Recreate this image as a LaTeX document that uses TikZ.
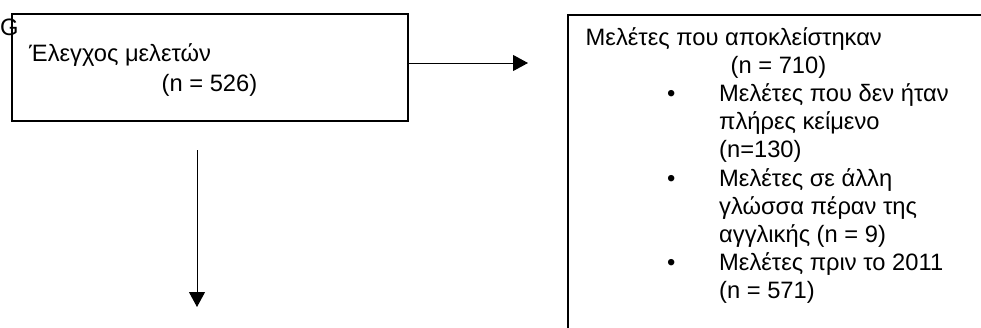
\documentclass[tikz,border=0pt]{standalone}
\usepackage{fontspec}
\setmainfont{Liberation Sans}
\usetikzlibrary{arrows.meta}
\begin{document}
\begin{tikzpicture}[x=1pt,y=-1pt,
  boxline/.style={draw=black,line width=1.8pt,inner sep=0pt},
  txt/.style={inner sep=0pt,anchor=base west,font=\fontsize{23.7}{28.2}\selectfont},
  conn/.style={draw=black,line width=1pt,-{Triangle[length=15pt,width=16pt]}}]
\useasboundingbox (0,0) rectangle (981,327);
\clip (0,0) rectangle (981,327);
% left box
\node[boxline,minimum width=396pt,minimum height=107pt] (screen) at (210,67.5) {};
\node[txt] (g) at (0,35) {G};
\node[txt] (t1) at (29,61) {Έλεγχος μελετών};
\node[txt] (t2) at (161.5,91) {(n = 526)};
% right box (runs on past the picture's edges)
\node[boxline,minimum width=440pt,minimum height=340pt,anchor=north west] (excl) at (567,14) {};
\node[txt] (r1) at (585.5,45) {Μελέτες που αποκλείστηκαν};
\node[txt] (r2) at (730.5,73.2) {(n = 710)};
\node[txt] (b1) at (667,101.4) {•};
\node[txt] (r3) at (719,101.4) {Μελέτες που δεν ήταν};
\node[txt] (r4) at (719,129.6) {πλήρες κείμενο};
\node[txt] (r5) at (719,157.8) {(n=130)};
\node[txt] (b2) at (667,186) {•};
\node[txt] (r6) at (719,186) {Μελέτες σε άλλη};
\node[txt] (r7) at (719,214.2) {γλώσσα πέραν της};
\node[txt] (r8) at (719,242.4) {αγγλικής (n = 9)};
\node[txt] (b3) at (667,270.6) {•};
\node[txt] (r9) at (719,270.6) {Μελέτες πριν το 2011};
\node[txt] (r10) at (719,298.8) {(n = 571)};
% connectors
\coordinate (rend) at (528,63);
\coordinate (dstart) at (197,150);
\coordinate (dend) at (197,307);
\draw[conn] (screen.east |- rend) -- (rend);
\draw[conn] (dstart) -- (dend);
\end{tikzpicture}
\end{document}
